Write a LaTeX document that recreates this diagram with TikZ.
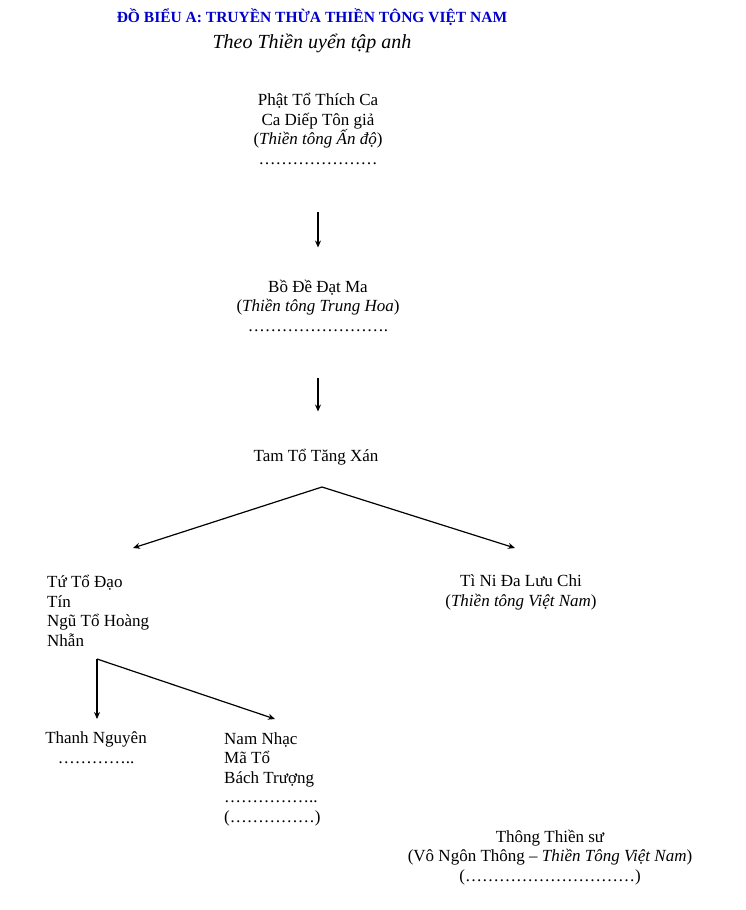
\documentclass[tikz,border=0pt]{standalone}
\usepackage{fontspec}
\setmainfont{Liberation Serif}
\usepackage{tikz}
\usetikzlibrary{arrows.meta}
\definecolor{TitleBlue}{HTML}{0000CC}

\begin{document}
\begin{tikzpicture}[x=1pt,y=-1pt,
		txt/.style={align=center,anchor=base,inner sep=0pt,font=\fontsize{17}{19.5}\selectfont},
		txtleft/.style={align=left,anchor=base west,inner sep=0pt,font=\fontsize{17}{19.5}\selectfont},
		arr/.style={-{Stealth[length=7pt,width=6pt]},line width=1.2pt}]
		\useasboundingbox (0,0) rectangle (745,910);
		% title
		\node[TitleBlue,anchor=base,font=\fontsize{15.5}{17}\selectfont\bfseries] (title) at (312,23) {ĐỒ BIỂU A: TRUYỀN THỪA THIỀN TÔNG VIỆT NAM};
		\node[anchor=base,font=\fontsize{20}{22}\selectfont\itshape] (subtitle) at (312,48) {Theo Thiền uyển tập anh};
		% lineage (anchored at the last line)
		\node[txt] (phat) at (318,164) {Phật Tổ Thích Ca\\Ca Diếp Tôn giả\\(\textit{Thiền tông Ấn độ})\\…………………};
		\node[txt] (bode) at (318,331) {Bồ Đề Đạt Ma\\(\textit{Thiền tông Trung Hoa})\\…………………….};
		\node[txt] (tamto) at (316,461) {Tam Tổ Tăng Xán};
		\node[txtleft] (tuto) at (47,646) {Tứ Tổ Đạo\\Tín\\Ngũ Tổ Hoàng\\Nhẫn};
		\node[txt] (tini) at (521,606) {Tì Ni Đa Lưu Chi\\(\textit{Thiền tông Việt Nam})};
		\node[txt] (thanh) at (96,763) {Thanh Nguyên\\…………..};
		\node[txtleft] (namnhac) at (224,822) {Nam Nhạc\\Mã Tổ\\Bách Trượng\\……………..\\(……………)};
		\node[txt] (thong) at (550,881) {Thông Thiền sư\\(Vô Ngôn Thông – \textit{Thiền Tông Việt Nam})\\(…………………………)};
		% forks
		\coordinate (fork1) at (322,487);
		\coordinate (tip4) at (133,548);
		\coordinate (tip5) at (515,548);
		\coordinate (fork2) at (97,659);
		\coordinate (tip6) at (97,719);
		\coordinate (tip7) at (275,719);
		% arrows
		\draw[arr,shorten <=48pt,shorten >=32pt] (phat.south) -- (bode.north);
		\draw[arr,shorten <=47pt,shorten >=37pt] (bode.south) -- (bode.south |- tamto.north);
		\draw[arr] (fork1) -- (tip4);
		\draw[arr] (fork1) -- (tip5);
		\draw[arr,line width=2pt] (fork2) -- (tip6);
		\draw[arr] (fork2) -- (tip7);
	\end{tikzpicture}
\end{document}
